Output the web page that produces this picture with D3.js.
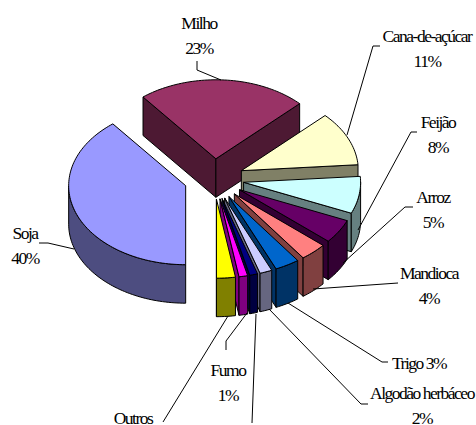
<!DOCTYPE html>
<html>
<head>
<meta charset="utf-8">
<script src="https://cdn.jsdelivr.net/npm/d3@7"></script>
<style>
  html, body { margin: 0; padding: 0; background: #fff; }
  text { font-family: "Liberation Serif", serif; font-size: 17.5px; letter-spacing: -1.5px; fill: #000; }
</style>
</head>
<body>
<div id="chart"></div>
<script>
// Data
const categories = ['Soja', 'Milho', 'Cana-de-açúcar', 'Feijão', 'Arroz', 'Mandioca', 'Trigo', 'Algodão herbáceo', 'Sem rótulo', 'Fumo', 'Outros']
const shares = [39.3, 23.4, 11.1, 7.6, 4.9, 3.7, 3.4, 1.7, 1.1, 1.2, 2.6]
const topColors = ['#9999ff', '#993366', '#ffffcc', '#ccffff', '#660066', '#ff8080', '#0066cc', '#ccccff', '#000080', '#ff00ff', '#ffff00']
const wallColors = ['#4d4d80', '#4d1933', '#808066', '#668080', '#330033', '#804040', '#003366', '#666680', '#000040', '#800080', '#808000']

// labels: lines of text with their centre position
const labels = [
  { lines: ['Soja', '40%'], x: 25, y: 233 },
  { lines: ['Milho', '23%'], x: 199, y: 23 },
  { lines: ['Cana-de-açúcar', '11%'], x: 427, y: 36 },
  { lines: ['Feijão', '8%'], x: 438, y: 122 },
  { lines: ['Arroz', '5%'], x: 433, y: 197 },
  { lines: ['Mandioca', '4%'], x: 429, y: 273 },
  { lines: ['Trigo 3%'], x: 419, y: 363 },
  { lines: ['Algodão herbáceo', '2%'], x: 422, y: 393 },
  { lines: ['Fumo', '1%'], x: 228, y: 370 },
  { lines: ['Outros'], x: 133, y: 418 }
]

// leader lines
const leaders = [
  [[39, 243], [48, 243], [74, 249]],
  [[197, 61], [197, 70], [221, 80]],
  [[380, 46], [373, 46], [347, 135]],
  [[417, 132], [411, 132], [358, 230]],
  [[413, 207], [405, 207], [343, 263]],
  [[398, 283], [313, 289]],
  [[388, 362], [382, 362], [288, 303]],
  [[368, 404], [361, 404], [269, 309]],
  [[256, 314], [252, 423]],
  [[226, 350], [226, 341], [247, 313]],
  [[163, 422], [228, 316]]
]

// Dimensions
const dimensions = {
  width: 476,
  height: 425,
  cx: 214,
  cy: 179,
  rx: 117,
  ry: 79,
  depth: 38.5,
  explode: 30
}
const tilt = dimensions.ry / dimensions.rx

const svg = d3.select('#chart')
  .append('svg')
  .attr('width', dimensions.width)
  .attr('height', dimensions.height)
  .style('display', 'block')

// clockwise from 6 o'clock
const pie = d3.pie().sort(null).startAngle(Math.PI).endAngle(3 * Math.PI)
const arcs = pie(shares)

const lineGenerator = d3.line()

const project = (a, r, o, dz = 0) => [
  o[0] + r * Math.sin(a),
  o[1] - r * Math.cos(a) * tilt + dz
]

const arcPoints = (a0, a1, o, dz) => {
  const n = Math.max(2, Math.ceil((a1 - a0) * 40))
  return d3.range(n + 1).map(i => project(a0 + (a1 - a0) * i / n, dimensions.rx, o, dz))
}

// one radial wall from the apex to the rim
const radialWall = (a, o) => [
  o,
  project(a, dimensions.rx, o),
  project(a, dimensions.rx, o, dimensions.depth),
  [o[0], o[1] + dimensions.depth]
]

const drawFace = (pts, fill) => svg.append('path')
  .attr('d', lineGenerator(pts) + 'Z')
  .attr('fill', fill)
  .attr('stroke', '#000')
  .attr('stroke-width', 1)
  .attr('stroke-linejoin', 'round')

// back to front: Soja does not overlap the others, so its place is free
arcs.forEach((d, i) => {
  const mid = (d.startAngle + d.endAngle) / 2
  const o = [
    dimensions.cx + dimensions.explode * Math.sin(mid),
    dimensions.cy - dimensions.explode * Math.cos(mid) * tilt
  ]

  // side walls, only when they face the viewer
  if (Math.cos(d.startAngle - Math.PI / 2) < 0) drawFace(radialWall(d.startAngle, o), wallColors[i])
  if (Math.cos(d.endAngle + Math.PI / 2) < 0) drawFace(radialWall(d.endAngle, o), wallColors[i])

  // outer wall: the part of the rim in the front half
  // angles past a full turn come back to 0..2pi first
  const turn = d.startAngle >= 2 * Math.PI ? 2 * Math.PI : 0
  const frontStart = Math.max(d.startAngle - turn, Math.PI / 2)
  const frontEnd = Math.min(d.endAngle - turn, 3 * Math.PI / 2)
  if (frontEnd > frontStart) {
    drawFace(
      arcPoints(frontStart, frontEnd, o, 0).concat(arcPoints(frontStart, frontEnd, o, dimensions.depth).reverse()),
      wallColors[i]
    )
  }

  // top
  drawFace([o].concat(arcPoints(d.startAngle, d.endAngle, o, 0)), topColors[i])
})

// leader lines
svg.append('g')
  .selectAll('path')
  .data(leaders)
  .join('path')
  .attr('d', d => lineGenerator(d))
  .attr('fill', 'none')
  .attr('stroke', '#000')
  .attr('stroke-width', 1)

// labels
const label = svg.append('g')
  .selectAll('g')
  .data(labels)
  .join('g')

label.selectAll('text')
  .data(d => d.lines.map((t, i) => ({ t, x: d.x, y: d.y + i * 25 })))
  .join('text')
  .attr('x', d => d.x)
  .attr('y', d => d.y)
  .attr('text-anchor', 'middle')
  .attr('dominant-baseline', 'central')
  .text(d => d.t)
</script>
</body>
</html>
